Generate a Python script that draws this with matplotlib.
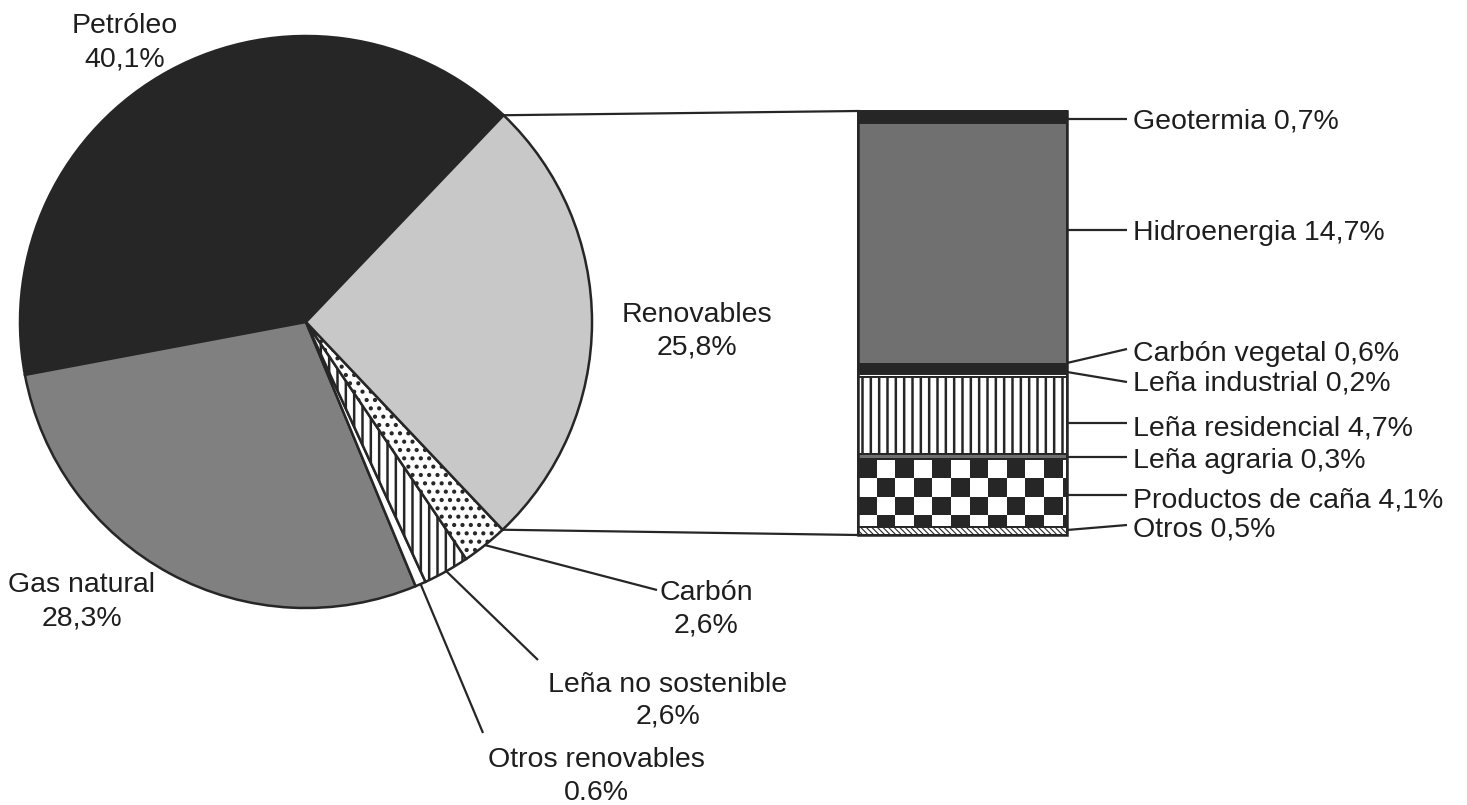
import numpy as np
import matplotlib
matplotlib.use("Agg")
import matplotlib.pyplot as plt
from matplotlib.patches import Rectangle

# ---------------- data ----------------
pie_labels = ["Petróleo", "Gas natural", "Otros renovables",
              "Leña no sostenible", "Carbón", "Renovables"]
pie_values = [40.1, 28.3, 0.6, 2.6, 2.6, 25.8]
pie_value_text = ["40,1%", "28,3%", "0.6%", "2,6%", "2,6%", "25,8%"]

bar_labels = ["Geotermia", "Hidroenergia", "Carbón vegetal", "Leña industrial",
              "Leña residencial", "Leña agraria", "Productos de caña", "Otros"]
bar_values = [0.7, 14.7, 0.6, 0.2, 4.7, 0.3, 4.1, 0.5]
bar_value_text = ["0,7%", "14,7%", "0,6%", "0,2%", "4,7%", "0,3%", "4,1%", "0,5%"]

# ---------------- styles ----------------
W, H = 1467, 805
DARK = "#262626"
TXT = "#1e1e1e"
FS = 20.5
plt.rcParams['font.family'] = ['Liberation Sans', 'DejaVu Sans']
plt.rcParams['hatch.linewidth'] = 1.8
plt.rcParams['hatch.color'] = DARK

pie_colors = [DARK, "#808080", "white", "white", "white", "#c8c8c8"]
pie_hatches = [None, None, None, "||", "..", None]
bar_colors = [DARK, "#707070", DARK, "white", "white", "#707070", "white", "white"]
bar_hatches = [None, None, None, None, "||", None, None, "\\\\\\\\\\\\"]


def Y(py):
    return H - py


fig = plt.figure(figsize=(W / 100, H / 100), dpi=100)
ax = fig.add_axes([0, 0, 1, 1])

# ---------------- pie ----------------
pc = (306, Y(322))
R = 286
start = 46.3
wedges, _ = ax.pie(pie_values, center=pc, radius=R, startangle=start,
                   counterclock=True, colors=pie_colors, hatch=pie_hatches,
                   wedgeprops=dict(edgecolor=DARK, linewidth=1.8),
                   frame=True)

# pie label positions: (center x, baseline of name, baseline of value) in pixels
pie_label_pos = {
    "Petróleo": (125, 33, 66),
    "Gas natural": (82, 592, 625),
    "Renovables": (697, 322, 355),
    "Carbón": (706, 600, 632),
    "Leña no sostenible": (668, 692, 723),
    "Otros renovables": (596, 767, 800),
}
# leader end points for small slices (pixels)
pie_leader_end = {
    "Carbón": (657, 590),
    "Leña no sostenible": (538, 660),
    "Otros renovables": (483, 733),
}

for w, name, vt in zip(wedges, pie_labels, pie_value_text):
    cx, b1, b2 = pie_label_pos[name]
    ax.text(cx, Y(b1), name, ha="center", va="baseline", fontsize=FS, color=TXT)
    ax.text(cx, Y(b2), vt, ha="center", va="baseline", fontsize=FS, color=TXT)
    if name in pie_leader_end:
        mid = np.deg2rad((w.theta1 + w.theta2) / 2)
        sx = pc[0] + R * np.cos(mid)
        sy = pc[1] + R * np.sin(mid)
        ex, ey = pie_leader_end[name]
        ax.plot([sx, ex], [sy, Y(ey)], color=DARK, lw=1.6, solid_capstyle="butt")

# ---------------- stacked bar ----------------
bx0, bx1 = 858, 1067
btop, bbot = Y(111), Y(535)
scale = (btop - bbot) / sum(bar_values)
heights = np.array(bar_values) * scale
tops = btop - np.concatenate([[0], np.cumsum(heights)[:-1]])
bottoms = tops - heights
bars = ax.bar([(bx0 + bx1) / 2] * len(bar_values), heights, bottom=bottoms,
              width=bx1 - bx0, color=bar_colors, edgecolor=DARK,
              linewidth=1.4, zorder=3)
for b, h in zip(bars, bar_hatches):
    if h:
        b.set_hatch(h)
        if hasattr(b, "set_hatch_linewidth") and h.startswith("\\"):
            b.set_hatch_linewidth(0.8)

# checkerboard texture for "Productos de caña"
idx = bar_labels.index("Productos de caña")
cb = bars[idx]
cell = 18.6
ncol = int(np.ceil((bx1 - bx0) / cell)) + 1
nrow = int(np.ceil(heights[idx] / cell)) + 1
checker = (np.add.outer(np.arange(nrow), np.arange(ncol)) % 2 == 0).astype(float)
im = ax.imshow(checker, cmap=matplotlib.colors.ListedColormap(["white", DARK]),
               extent=(bx0, bx0 + ncol * cell, tops[idx] - nrow * cell, tops[idx]),
               interpolation="nearest", zorder=2.5, origin="upper")
im.set_clip_path(cb)
cb.set_facecolor("none")
# outer outline of the bar
ax.add_patch(Rectangle((bx0, bbot), bx1 - bx0, btop - bbot, fill=False,
                       edgecolor=DARK, linewidth=1.8, zorder=4))

# bar leader lines: (y at bar, y at label) in pixels
bar_leader_y = [(119, 119), (230, 230), (363, 349), (372, 382),
                (423, 423), (457, 457), (495, 495), (530, 525)]
bar_label_center = [119, 230, 351, 381, 425, 458, 497, 527]
for name, vt, (y0, y1), yc in zip(bar_labels, bar_value_text, bar_leader_y,
                                  bar_label_center):
    ax.plot([bx1, 1127], [Y(y0), Y(y1)], color=DARK, lw=1.6,
            solid_capstyle="butt", zorder=2)
    ax.text(1133, Y(yc + 10), f"{name} {vt}", ha="left", va="baseline",
            fontsize=FS, color=TXT)

# ---------------- connectors pie -> bar ----------------
ren = wedges[pie_labels.index("Renovables")]
t2 = np.deg2rad(ren.theta2)
t1 = np.deg2rad(ren.theta1)
ax.plot([pc[0] + R * np.cos(t2), bx0], [pc[1] + R * np.sin(t2), btop],
        color=DARK, lw=1.6, zorder=1)
ax.plot([pc[0] + R * np.cos(t1), bx0], [pc[1] + R * np.sin(t1), bbot],
        color=DARK, lw=1.6, zorder=1)

ax.set_xlim(0, W)
ax.set_ylim(0, H)
ax.set_aspect("equal")
ax.axis("off")

fig.savefig("out.png", dpi=100, facecolor="white")
